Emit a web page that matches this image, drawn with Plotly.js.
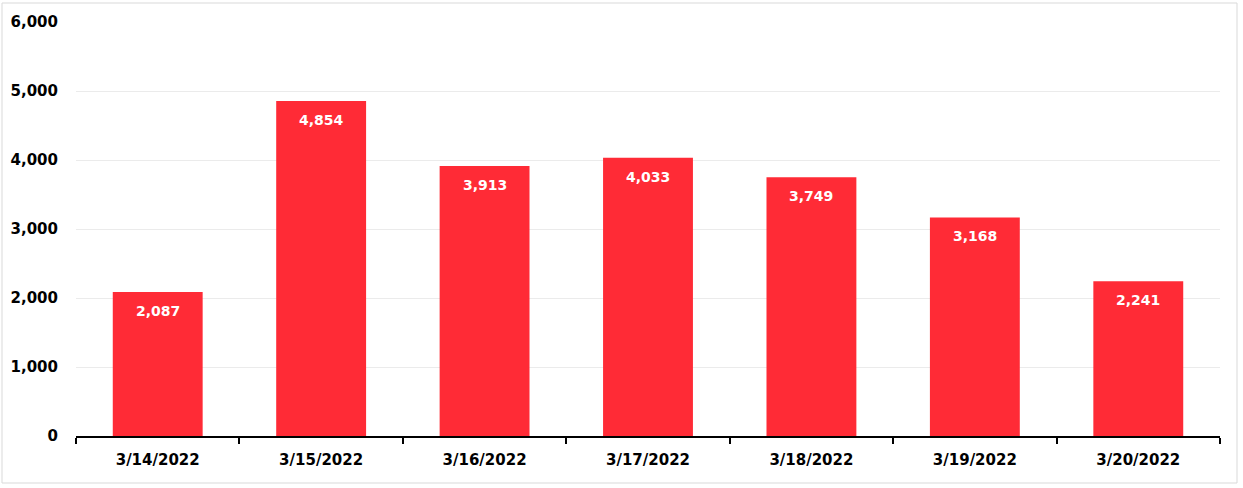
<!DOCTYPE html>
<html><head><meta charset="utf-8">
<script src="https://cdn.plot.ly/plotly-3.0.1.min.js"></script>
<style>html,body{margin:0;padding:0;background:#fff}#c{width:1243px;height:488px}</style>
</head><body><div id="c"></div>
<script>
const dates = ["3/14/2022","3/15/2022","3/16/2022","3/17/2022","3/18/2022","3/19/2022","3/20/2022"];
const counts = [2087,4854,3913,4033,3749,3168,2241];
const yTicks = [0,1000,2000,3000,4000,5000,6000];
const yTickText = ["0","1,000","2,000","3,000","4,000","5,000","6,000"];

const FAM = "Tahoma, 'DejaVu Sans', sans-serif";
Plotly.newPlot("c", [{
  type:"bar", x:dates, y:counts,
  marker:{color:"rgb(255,43,54)"},
  hoverinfo:"none"
}], {
  width:1243, height:488,
  margin:{l:76, r:23, t:22, b:52},
  paper_bgcolor:"#fff", plot_bgcolor:"#fff",
  bargap:0.45, showlegend:false,
  font:{family:FAM, size:14, color:"#000"},
  xaxis:{type:"category", showline:true, linecolor:"#000", linewidth:2,
    ticks:"outside", tickson:"boundaries", ticklen:6, tickwidth:2, tickcolor:"#000",
    tickfont:{family:FAM, size:15, color:"#000", weight:"bold"},
    ticklabelstandoff:9, showgrid:false, fixedrange:true},
  yaxis:{range:[0,6000], tickvals:yTicks, ticktext:yTickText, showline:false, ticks:"",
    gridcolor:"#ebebeb", gridwidth:1, zeroline:false,
    tickfont:{family:FAM, size:15, color:"#000", weight:"bold"},
    ticklabelstandoff:17, fixedrange:true},
  annotations: dates.map((d,i)=>({x:d, y:counts[i], xref:"x", yref:"y",
    text:counts[i].toLocaleString("en-US"), showarrow:false, yshift:-19,
    font:{family:FAM, size:14, color:"#fff", weight:"bold"}})),
  shapes:[{type:"rect", xref:"paper", yref:"paper",
    x0:(2-76)/1144, x1:(1237-76)/1144, y0:(436-483)/414, y1:(436-3)/414,
    line:{color:"#d9d9d9", width:1}, fillcolor:"rgba(0,0,0,0)", layer:"below"}]
}, {displayModeBar:false, staticPlot:true});
</script></body></html>
